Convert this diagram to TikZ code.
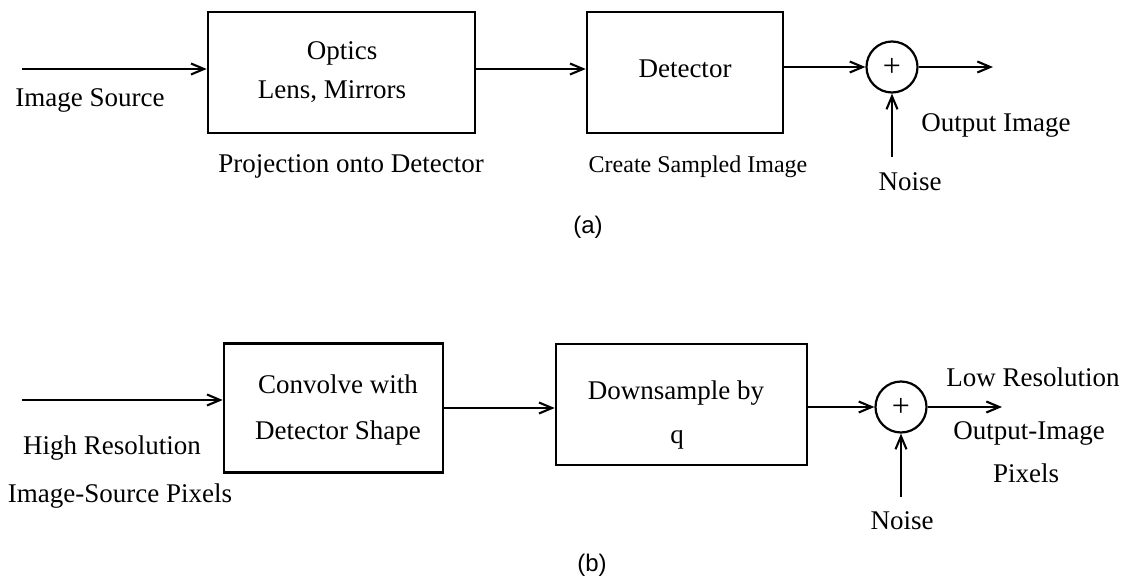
\documentclass[tikz,border=0pt]{standalone}
\usepackage{fontspec}
\setmainfont{Liberation Serif}
\newfontfamily\labsans{Liberation Sans}
\usetikzlibrary{arrows.meta}
\begin{document}
\begin{tikzpicture}[x=1pt,y=-1pt,
  blk/.style={draw, line width=2.6pt, rectangle, inner sep=0pt},
  sumnode/.style={draw, circle, line width=2.2pt, minimum size=51pt, inner sep=0pt, font=\fontsize{32pt}{34pt}\selectfont},
  lbl/.style={inner sep=0pt, font=\fontsize{27pt}{32pt}\selectfont},
  sml/.style={inner sep=0pt, font=\fontsize{24pt}{28pt}\selectfont},
  figcap/.style={inner sep=0pt, font=\labsans\fontsize{24pt}{28pt}\selectfont},
  flow/.style={line width=2.1pt, -{Straight Barb[length=13pt,width=11pt]}}]
\useasboundingbox (0,0) rectangle (1124,578);

% ---------- (a) ----------
\node[blk, minimum width=267pt, minimum height=121pt] (opt) at (341.5,72.5) {};
\node[blk, minimum width=196pt, minimum height=121pt] (det) at (685,72.5) {};
\node[sumnode] (sa) at (892,67) {+};
\node[lbl] (optA) at (342,53) {Optics};
\node[lbl] (optB) at (332,92) {Lens, Mirrors};
\node[lbl] (detT) at (685,69) {Detector};
\node[lbl] (srcA) at (90,100) {Image Source};
\node[lbl] (projA) at (351,166) {Projection onto Detector};
\node[sml] (sampA) at (698,167) {Create Sampled Image};
\node[lbl] (outA) at (996,125) {Output Image};
\node[lbl] (noiseA) at (910,182) {Noise};
\node[figcap] (capA) at (588,227) {(a)};

\coordinate (ain) at (22,69);
\coordinate (aout) at (993,67);
\coordinate (anz) at (892,157);
\draw[flow] (ain) -- (ain -| opt.west);
\draw[flow] (opt.east |- ain) -- (det.west |- ain);
\draw[flow] (det.east |- sa) -- (sa.west);
\draw[flow] (sa.east) -- (aout);
\draw[flow] (anz) -- (sa.south);

% ---------- (b) ----------
\node[blk, minimum width=219pt, minimum height=129pt] (conv) at (333.5,408) {};
\node[blk, minimum width=251pt, minimum height=121pt] (down) at (681.5,404.5) {};
\node[sumnode] (sb) at (901,407) {+};
\node[lbl] (convA) at (338,384) {Convolve with};
\node[lbl] (convB) at (338,433) {Detector Shape};
\node[lbl] (downA) at (676,393) {Downsample by};
\node[lbl] (downB) at (677,440) {q};
\node[lbl] (hiA) at (112,448) {High Resolution};
\node[lbl] (hiB) at (120,496) {Image-Source Pixels};
\node[lbl] (lowA) at (1033,377) {Low Resolution};
\node[lbl] (lowB) at (1029,433) {Output-Image};
\node[lbl] (lowC) at (1026,473) {Pixels};
\node[lbl] (noiseB) at (902,521) {Noise};
\node[figcap] (capB) at (592,565) {(b)};

\coordinate (bin) at (22,400);
\coordinate (bout) at (1002,407);
\coordinate (bnz) at (901,497);
\draw[flow] (bin) -- (bin -| conv.west);
\draw[flow] (conv.east) -- (conv.east -| down.west);
\draw[flow] (down.east |- sb) -- (sb.west);
\draw[flow] (sb.east) -- (bout);
\draw[flow] (bnz) -- (sb.south);
\end{tikzpicture}
\end{document}
